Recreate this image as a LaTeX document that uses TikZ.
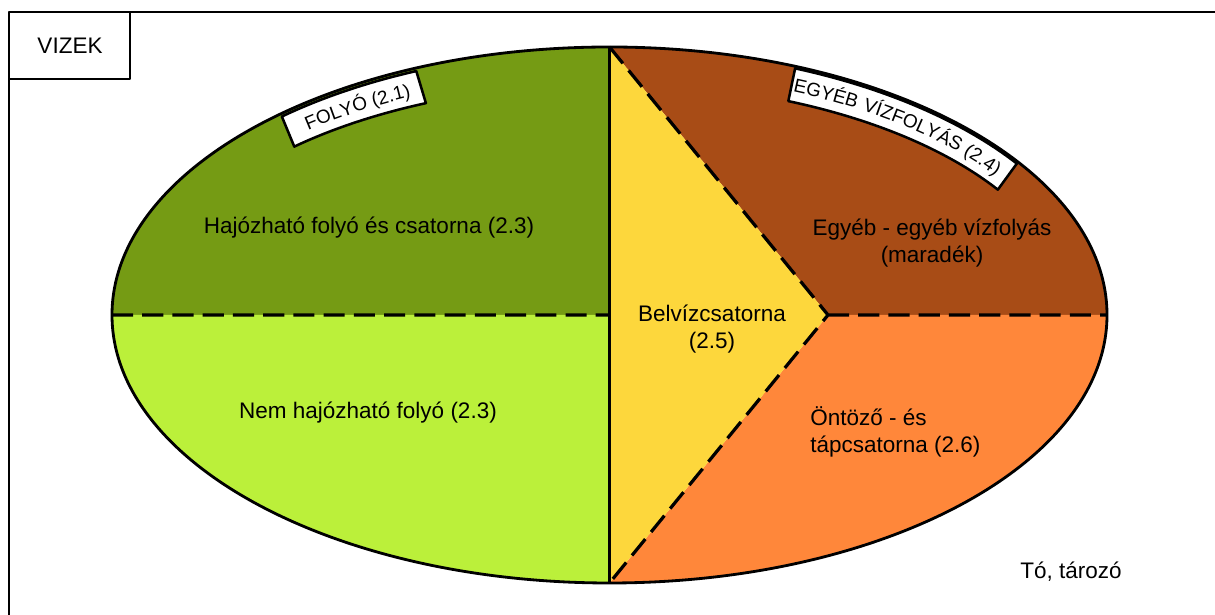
\documentclass[tikz,border=0pt]{standalone}
\usepackage{fontspec}
\setmainfont{Liberation Sans}
\usetikzlibrary{decorations.text,calc}
\definecolor{hajozo}{RGB}{117,155,20}
\definecolor{nemhajozo}{RGB}{187,240,58}
\definecolor{belviz}{RGB}{253,215,60}
\definecolor{egyeb}{RGB}{168,76,22}
\definecolor{ontozo}{RGB}{255,135,58}
\tikzset{
  felirat/.style={font=\fontsize{16}{19}\selectfont, align=center, inner sep=0pt},
  hatar/.style={line width=2.3pt, line cap=butt, dash pattern=on 15pt off 6.5pt},
  cimke/.style={fill=white, draw=black, line width=1.8pt}
}
\begin{document}
\begin{tikzpicture}[x=0.025cm, y=0.025cm, line join=round]
            \useasboundingbox (0,0) rectangle (1215,615);
            \coordinate (c) at (609.5,300);
            \coordinate (t) at (609.5,568);
            \coordinate (b) at (609.5,32);
            \coordinate (w) at (112,300);
            \coordinate (e) at (1107,300);
            \coordinate (p) at (828,300);
            \fill[hajozo] (c)--(w) arc[start angle=180, end angle=90, x radius=497.5, y radius=268]--cycle;
            \fill[nemhajozo] (c)--(w) arc[start angle=180, end angle=270, x radius=497.5, y radius=268]--cycle;
            \fill[egyeb] (t)--(p)--(e) arc[start angle=0, end angle=90, x radius=497.5, y radius=268]--cycle;
            \fill[ontozo] (b)--(p)--(e) arc[start angle=0, end angle=-90, x radius=497.5, y radius=268]--cycle;
            \fill[belviz] (t)--(p)--(b)--cycle;
            \draw[hatar] (w)--(c) (p)--(e) (t)--(p)--(b);
            \draw[line width=1.5pt] (t)--(b);
            \draw[line width=2pt] (c) ellipse[x radius=497.5, y radius=268];
            % keret
            \draw[line width=1.6pt] (9,0)--(9,603.3)--(1215,603.3);
            \draw[line width=1.6pt] (9,536)--(130,536)--(130,603.3);
            \node[felirat] (vizek) at (70,569) {VIZEK};
            % cimkek az ellipszis szelen
            \draw[cimke] ($(c)+(131.5:494.5 and 265)$) arc[start angle=131.5, end angle=113, x radius=494.5, y radius=265]
                --($(c)+(113.5:460.5 and 231)$) arc[start angle=113.5, end angle=133.2, x radius=460.5, y radius=231]--cycle;
            \path[decorate, decoration={text along path, text align=center,
                text={|\fontsize{13.5}{16}\selectfont|FOLYÓ (2.1)}}]
                ($(c)+(131.5:470 and 240.5)$) arc[start angle=131.5, end angle=113.5, x radius=470, y radius=240.5];
            \draw[cimke] ($(c)+(68:495.5 and 266)$) arc[start angle=68, end angle=34.7, x radius=495.5, y radius=266]
                --($(c)+(32.7:461.5 and 232)$) arc[start angle=32.7, end angle=67.2, x radius=461.5, y radius=232]--cycle;
            \path[decorate, decoration={text along path, text align=center,
                text={|\fontsize{13.5}{16}\selectfont|EGYÉB{\hspace{.35em}}VÍZFOLYÁS (2.4)}}]
                ($(c)+(68:472 and 242)$) arc[start angle=68, end angle=34, x radius=472, y radius=242];
            % feliratok
            \node[felirat] (hajozhato) at (369,387) {Hajózható folyó és csatorna (2.3)};
            \node[felirat] (nemhajozhato) at (368,202) {Nem hajózható folyó (2.3)};
            \node[felirat] (belvizcs) at (712,286) {Belvízcsatorna\\(2.5)};
            \node[felirat] (egyebviz) at (932,372) {Egyéb - egyéb vízfolyás\\(maradék)};
            \node[felirat, align=left, anchor=west] (ontozocs) at (810,183) {Öntöző - és\\tápcsatorna (2.6)};
            \node[felirat] (to) at (1071,43) {Tó, tározó};
        \end{tikzpicture}
\end{document}
